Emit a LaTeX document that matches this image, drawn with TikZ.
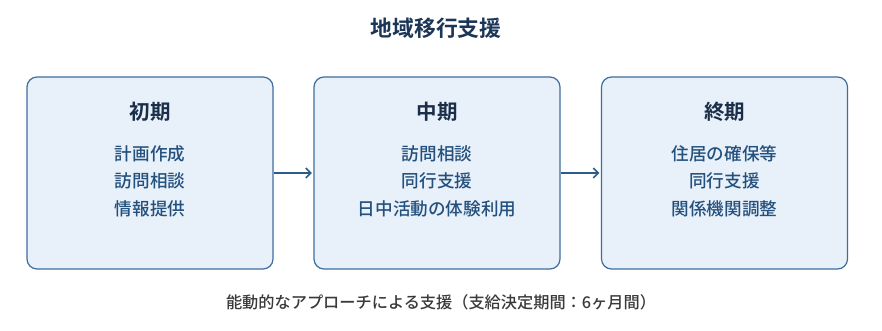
\documentclass[tikz,border=0pt]{standalone}
\usepackage{fontspec}
\newfontfamily\cjk{Noto Sans CJK JP Medium}
\newfontfamily\cjkb{Noto Sans CJK JP Bold}
\definecolor{boxfill}{HTML}{E8F1FA}
\definecolor{boxline}{HTML}{3F6E9E}
\definecolor{arrowc}{HTML}{2E5C8A}
\definecolor{titlec}{HTML}{1C3657}
\definecolor{headc}{HTML}{1A2E4A}
\definecolor{itemc}{HTML}{24507E}
\definecolor{notec}{HTML}{3A3A3A}
\begin{document}
\begin{tikzpicture}[x=1pt,y=-1pt,
  phase/.style={draw=boxline, line width=1.2pt, fill=boxfill, rounded corners=10pt,
    minimum width=246pt, minimum height=192pt, inner sep=0pt},
  head/.style={font=\cjkb\fontsize{20.5}{24}\selectfont, text=headc},
  item/.style={font=\cjk\fontsize{17.6}{27.5}\selectfont, text=itemc, align=center},
  conn/.style={draw=arrowc, line width=1.6pt, -{Straight Barb[length=5pt,width=10pt]}}]
\usetikzlibrary{arrows.meta}
\useasboundingbox (0,0) rectangle (882,331);
\fill[white] (0,0) rectangle (882,331);
\node[font=\cjkb\fontsize{21.8}{24}\selectfont, text=titlec] (title) at (436,28) {地域移行支援};
\node[phase] (b1) at (150,173) {};
\node[phase] (b2) at (437,173) {};
\node[phase] (b3) at (724.5,173) {};
\node[head] (h1) at (150,112) {初期};
\node[head] (h2) at (437,112) {中期};
\node[head] (h3) at (724.5,112) {終期};
\node[item] (i1) at (150,181) {計画作成\\訪問相談\\情報提供};
\node[item] (i2) at (437,181) {訪問相談\\同行支援\\日中活動の体験利用};
\node[item] (i3) at (724.5,181) {住居の確保等\\同行支援\\関係機関調整};
\draw[conn] (b1.east) -- ([xshift=-1.5pt]b2.west);
\draw[conn] (b2.east) -- ([xshift=-1.5pt]b3.west);
\node[font=\cjk\fontsize{16.2}{19}\selectfont, text=notec] (note) at (441,302) {能動的なアプローチによる支援（支給決定期間：6ヶ月間）};
\end{tikzpicture}
\end{document}
